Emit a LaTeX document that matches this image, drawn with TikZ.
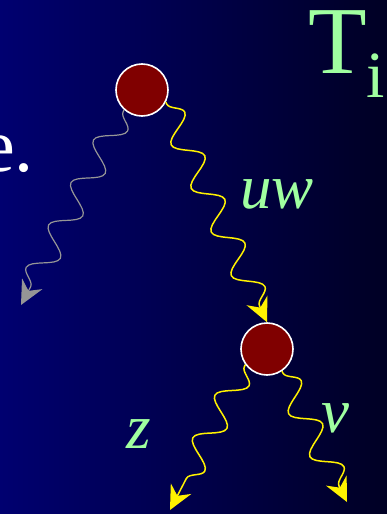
\documentclass[tikz,border=0pt]{standalone}
\usepackage{fontspec}
\setmainfont{Liberation Serif}
\usetikzlibrary{arrows.meta,positioning,decorations.pathmorphing}
\definecolor{bgleft}{RGB}{0,0,112}
\definecolor{bgright}{RGB}{0,0,36}
\definecolor{lblgreen}{RGB}{160,255,160}
\definecolor{vertred}{RGB}{128,0,0}
\definecolor{wiggray}{RGB}{150,150,150}

\tikzset{
	vertex/.style={circle,fill=vertred,draw=white,line width=1.6pt,minimum size=52pt,inner sep=0pt},
	wiggle/.style={decorate,decoration={snake,segment length=48pt,amplitude=13pt,pre length=2pt,post length=18pt},
		-{Stealth[length=24pt,width=23pt,inset=8pt]}},
	lbl/.style={text=lblgreen,inner sep=0pt,font=\fontsize{63}{63}\selectfont\itshape}
}

\begin{document}
\begin{tikzpicture}[x=1pt,y=-1pt]
	% background
	\fill[left color=bgleft,right color=bgright] (0,0) rectangle (387,514);
	\useasboundingbox (0,0) rectangle (387,514);
	
	% vertices
	\node[vertex] (top) at (142,90) {};
	\node[vertex] (bot) at (267,349) {};
	
	% loose ends
	\coordinate (gend) at (21,305);
	\coordinate (zend) at (170,510);
	\coordinate (vend) at (347,502);
	
	\draw[wiggle,wiggray,line width=1.2pt] (top.228) -- (gend);
	\draw[wiggle,yellow,line width=1.5pt] (top.333) -- (bot.north);
	\draw[wiggle,yellow,line width=1.5pt] (bot.216) -- (zend);
	\draw[wiggle,yellow,line width=1.5pt] (bot.304) -- (vend);
	
	% labels
	\node[lbl,anchor=base] (uw) at (277,208) {uw};
	\node[lbl,anchor=base] (z) at (139,448) {z};
	\node[lbl,anchor=base] (v) at (335,432) {v};
	
	\node[anchor=base west,inner sep=0pt,text=lblgreen,font=\fontsize{96}{96}\selectfont] (title) at (308,73)
		{T\raisebox{-24pt}{\fontsize{66}{66}\selectfont i}};
	\node[anchor=base east,inner sep=0pt,text=white,font=\fontsize{76}{76}\selectfont] (word) at (34,171) {e.};
\end{tikzpicture}
\end{document}
